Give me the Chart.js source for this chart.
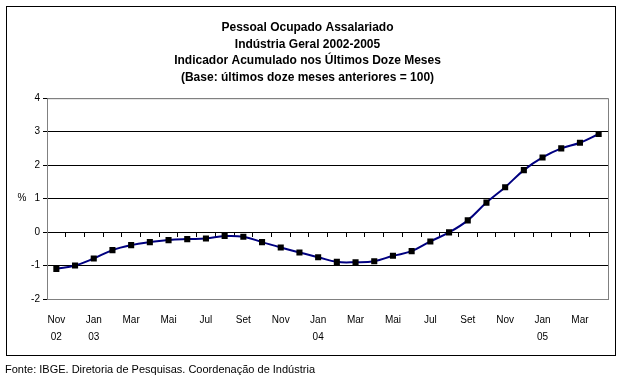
<!DOCTYPE html>
<html>
<head>
<meta charset="utf-8">
<script src="https://cdn.jsdelivr.net/npm/chart.js@4/dist/chart.umd.min.js"></script>
<style>
  body { margin: 0; background: #fff; }
  #wrap { position: relative; width: 624px; height: 378px; }
  #box { position: absolute; left: 6px; top: 6px; width: 608px; height: 348px; border: 1px solid #000; }
  #chart { position: absolute; left: 0; top: 0; }
  #fonte { position: absolute; left: 5px; top: 363px; font: 11px "Liberation Sans", Arial, sans-serif; color: #000; }
</style>
</head>
<body>
<div id="wrap">
  <div id="box"></div>
  <canvas id="chart" width="624" height="378"></canvas>
  <div id="fonte">Fonte: IBGE. Diretoria de Pesquisas. Coordenação de Indústria</div>
</div>
<script>
// meses de nov/2002 a abr/2005
const months = ['Nov', 'Dez', 'Jan', 'Fev', 'Mar', 'Abr', 'Mai', 'Jun', 'Jul', 'Ago', 'Set', 'Out',
  'Nov', 'Dez', 'Jan', 'Fev', 'Mar', 'Abr', 'Mai', 'Jun', 'Jul', 'Ago', 'Set', 'Out',
  'Nov', 'Dez', 'Jan', 'Fev', 'Mar', 'Abr'];
const years = ['02', '', '03', '', '', '', '', '', '', '', '', '',
  '', '', '04', '', '', '', '', '', '', '', '', '',
  '', '', '05', '', '', ''];
const values = [-1.10, -1.00, -0.79, -0.54, -0.39, -0.30, -0.24, -0.21, -0.19, -0.12, -0.14, -0.30,
  -0.46, -0.61, -0.75, -0.89, -0.90, -0.87, -0.71, -0.57, -0.28, -0.01, 0.35, 0.88,
  1.34, 1.85, 2.23, 2.50, 2.67, 2.93];
const yTicks = [-2, -1, 0, 1, 2, 3, 4];

const FONT = '"Liberation Sans", Arial, sans-serif';

// moldura cinza da área do gráfico e o "%" do eixo
const frame = {
  id: 'frame',
  beforeDatasetsDraw(chart) {
    const a = chart.chartArea, c = chart.ctx;
    c.save();
    c.strokeStyle = '#808080';
    c.lineWidth = 1;
    c.strokeRect(a.left + 0.5, a.top + 0.5, a.right - a.left, a.bottom - a.top);
    c.restore();
  },
  afterDraw(chart) {
    const a = chart.chartArea, c = chart.ctx;
    c.save();
    c.fillStyle = '#000';
    c.font = '10px ' + FONT;
    c.textAlign = 'center';
    c.textBaseline = 'middle';
    c.fillText('%', a.left - 25, (a.top + a.bottom) / 2);
    c.restore();
  }
};

new Chart(document.getElementById('chart'), {
  type: 'line',
  data: {
    labels: months,
    datasets: [{
      data: values,
      borderColor: '#000080',
      borderWidth: 2,
      tension: 0.4,
      pointStyle: 'rect',
      pointRadius: 4.3,
      pointBackgroundColor: '#000',
      pointBorderColor: '#000',
      pointBorderWidth: 0,
      xAxisID: 'x',
      yAxisID: 'y'
    }]
  },
  options: {
    responsive: false,
    animation: false,
    layout: { padding: { left: 7, right: 16, top: 19, bottom: 24 } },
    plugins: {
      legend: { display: false },
      tooltip: { enabled: false },
      title: {
        display: true,
        text: ['Pessoal Ocupado Assalariado', 'Indústria Geral 2002-2005',
          'Indicador Acumulado nos Últimos Doze Meses', '(Base: últimos doze meses anteriores = 100)'],
        color: '#000',
        font: { family: FONT, size: 12, weight: 'bold', lineHeight: 1.4 },
        padding: { top: 0, bottom: 12 }
      }
    },
    scales: {
      x: {
        type: 'category',
        position: 'bottom',
        offset: true,
        grid: { display: false },
        border: { display: false },
        ticks: {
          autoSkip: false,
          maxRotation: 0,
          padding: 4,
          color: '#000',
          font: { family: FONT, size: 10, lineHeight: 1.75 },
          callback: (v, i) => i % 2 ? '' : (years[i] ? [months[i], years[i]] : months[i])
        },
        afterFit: s => { s.height = 55; }
      },
      x0: {
        type: 'category',
        position: { y: 0 },
        offset: true,
        grid: { offset: true, drawOnChartArea: false, drawTicks: true, tickLength: 4, color: '#000' },
        border: { display: true, color: '#000', width: 1 },
        ticks: { display: false }
      },
      y: {
        min: -2,
        max: 4,
        afterBuildTicks: s => { s.ticks = yTicks.map(v => ({ value: v })); },
        grid: {
          color: c => (c.tick && (c.tick.value === 4 || c.tick.value === -2)) ? '#808080' : '#000',
          tickColor: '#000',
          tickLength: 4
        },
        border: { color: '#000', width: 1 },
        ticks: { color: '#000', padding: 3, font: { family: FONT, size: 10 } },
        afterFit: s => { s.width = 40; }
      }
    }
  },
  plugins: [frame]
});
</script>
</body>
</html>
